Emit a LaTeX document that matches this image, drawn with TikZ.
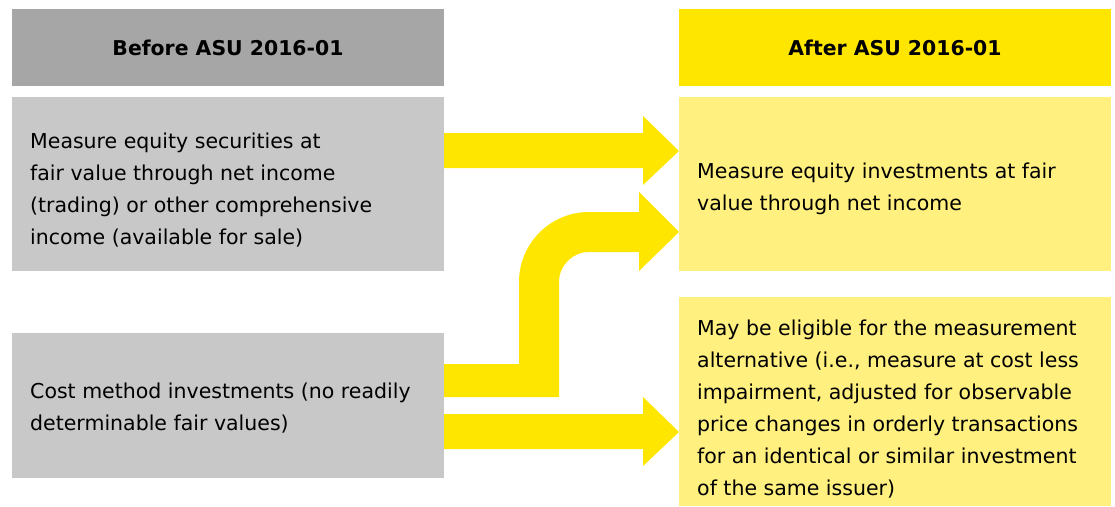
\documentclass[tikz,border=0pt]{standalone}
\usepackage{fontspec}
\setmainfont{DejaVu Sans}
\definecolor{hdrgray}{HTML}{A6A6A6}
\definecolor{boxgray}{HTML}{C8C8C8}
\definecolor{eyyellow}{HTML}{FFE600}
\definecolor{lightyellow}{HTML}{FFF080}
\tikzset{
  box/.style={anchor=north west, inner sep=0pt, outer sep=0pt, minimum width=432pt},
  hdr/.style={box, minimum height=77pt, font=\fontsize{20.4}{24}\selectfont\bfseries},
  body/.style={anchor=base west, inner sep=0pt, align=left, font=\fontsize{20.5}{32}\selectfont},
  arrowfill/.style={fill=eyyellow}
}
\begin{document}
\begin{tikzpicture}[x=1pt,y=-1pt]
\useasboundingbox (0,0) rectangle (1115,506);
% headers
\node[hdr, fill=hdrgray] (l0) at (12,9) {Before ASU 2016-01};
\node[hdr, fill=eyyellow] (r0) at (679,9) {After ASU 2016-01};
% boxes
\node[box, fill=boxgray, minimum height=174pt] (l1) at (12,97) {};
\node[box, fill=lightyellow, minimum height=174pt] (r1) at (679,97) {};
\node[box, fill=boxgray, minimum height=145pt] (l2) at (12,333) {};
\node[box, fill=lightyellow, minimum height=209pt] (r2) at (679,297) {};
% texts (anchored at the baseline of the last line)
\node[body] (l1t) at (30,244) {Measure equity securities at\\fair value through net income\\(trading) or other comprehensive\\income (available for sale)};
\node[body] (r1t) at (697,210) {Measure equity investments at fair\\value through net income};
\node[body] (l2t) at (30,430) {Cost method investments (no readily\\determinable fair values)};
\node[body] (r2t) at (697,495) {May be eligible for the measurement\\alternative (i.e., measure at cost less\\impairment, adjusted for observable\\price changes in orderly transactions\\for an identical or similar investment\\of the same issuer)};
% arrow 1: l1 -> r1
\fill[arrowfill] (l1.east |- 0,133) -- (643,133) -- (643,116) -- (r1.west |- 0,151)
  -- (643,185) -- (643,168) -- (l1.east |- 0,168) -- cycle;
% arrow 2: l2 -> r1 (bent)
\fill[arrowfill] (l2.east |- 0,364) -- (519,364) -- (519,282)
  arc[start angle=180, end angle=90, radius=70pt] -- (639,212) -- (639,192)
  -- (r1.west |- 0,232) -- (639,271) -- (639,252) -- (589,252)
  arc[start angle=90, end angle=180, radius=30pt] -- (559,397)
  -- (l2.east |- 0,397) -- cycle;
% arrow 3: l2 -> r2
\fill[arrowfill] (l2.east |- 0,414) -- (643,414) -- (643,397) -- (r2.west |- 0,432)
  -- (643,466) -- (643,449) -- (l2.east |- 0,449) -- cycle;
\end{tikzpicture}
\end{document}
